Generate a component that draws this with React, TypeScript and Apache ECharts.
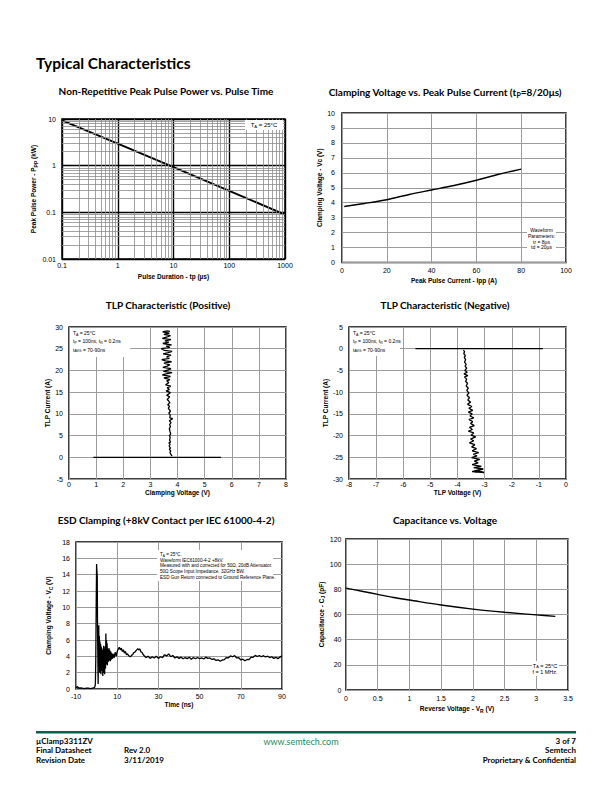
import React, { useEffect, useRef } from "react";
import * as echarts from "echarts";

// ---------- Chart 1: Non-Repetitive Peak Pulse Power vs. Pulse Time ----------
const pulseDuration = [0.1, 1, 10, 100, 1000];
const peakPulsePower = [9.3, 2.95, 0.93, 0.29, 0.089];
const decadesX = [0.1, 1, 10, 100];
const decadesY = [0.01, 0.1, 1];

// ---------- Chart 2: Clamping Voltage vs. Peak Pulse Current ----------
const peakPulseCurrent = [1, 10, 20, 30, 40, 50, 60, 70, 80];
const clampingVoltage = [3.75, 3.95, 4.2, 4.55, 4.85, 5.15, 5.5, 5.9, 6.25];

// ---------- Chart 3: TLP Characteristic (Positive) ----------
const tlpPosBaseV = [0.9, 5.6];
const tlpPosBaseI = [0, 0];
const tlpPosV = [3.8, 3.76, 3.72, 3.75, 3.7, 3.74, 3.69, 3.73, 3.68, 3.74, 3.71, 3.73, 3.7, 3.75, 3.72, 3.7, 3.74, 3.71, 3.76, 3.7, 3.82, 3.72, 3.73, 3.68, 3.74, 3.66, 3.71, 3.64, 3.72, 3.67, 3.62, 3.71, 3.6, 3.68, 3.74, 3.58, 3.7, 3.62, 3.75, 3.56, 3.68, 3.6, 3.72, 3.5, 3.74, 3.44, 3.58, 3.8, 3.48, 3.66, 3.76, 3.46, 3.62, 3.72, 3.5, 3.78, 3.55, 3.42, 3.7, 3.6, 3.76, 3.47, 3.66, 3.8, 3.52, 3.4, 3.72, 3.58, 3.78, 3.46, 3.68, 3.54, 3.76, 3.44, 3.62, 3.74, 3.5, 3.7, 3.45, 3.62, 3.72];
const tlpPosI = [0.3, 0.6, 1.1, 1.4, 1.9, 2.1, 2.6, 3.0, 3.3, 3.5, 4.0, 4.6, 5.0, 5.4, 6.0, 6.6, 7.1, 7.5, 8.0, 8.4, 8.9, 9.1, 9.7, 10.2, 10.6, 11.3, 11.7, 12.1, 12.6, 13.0, 13.3, 13.9, 14.3, 14.6, 14.9, 15.3, 15.6, 16.0, 16.4, 16.7, 17.2, 17.6, 17.9, 18.3, 18.6, 19.0, 19.2, 19.5, 19.8, 20.1, 20.4, 20.7, 21.0, 21.3, 21.7, 22.0, 22.2, 22.5, 22.8, 23.1, 23.5, 23.8, 24.1, 24.4, 24.6, 25.0, 25.3, 25.6, 25.9, 26.2, 26.5, 26.8, 27.1, 27.4, 27.7, 28.0, 28.3, 28.6, 28.9, 29.1, 29.0];

// ---------- Chart 4: TLP Characteristic (Negative) ----------
const tlpNegBaseV = [-5.55, -0.85];
const tlpNegBaseI = [0, 0];
const tlpNegV = [-3.78, -3.74, -3.77, -3.71, -3.75, -3.7, -3.74, -3.68, -3.72, -3.66, -3.73, -3.64, -3.76, -3.62, -3.74, -3.66, -3.7, -3.63, -3.68, -3.6, -3.66, -3.58, -3.65, -3.56, -3.62, -3.52, -3.63, -3.47, -3.58, -3.44, -3.6, -3.46, -3.54, -3.4, -3.58, -3.44, -3.52, -3.38, -3.56, -3.45, -3.6, -3.4, -3.5, -3.33, -3.52, -3.4, -3.56, -3.36, -3.48, -3.3, -3.46, -3.22, -3.42, -3.28, -3.48, -3.18, -3.38, -3.24, -3.46, -3.12, -3.4, -3.05, -3.3, -3.46, -3.02, -3.2, -3.36];
const tlpNegI = [-0.3, -0.7, -1.1, -1.6, -2.0, -2.5, -3.1, -3.6, -4.0, -4.5, -5.0, -5.4, -5.8, -6.2, -6.5, -7.0, -7.5, -8.0, -8.6, -9.1, -9.6, -10.2, -10.7, -11.3, -11.8, -12.3, -12.8, -13.3, -13.7, -14.2, -14.6, -15.0, -15.5, -15.9, -16.3, -16.8, -17.2, -17.7, -18.1, -18.6, -19.0, -19.4, -19.9, -20.3, -20.8, -21.2, -21.7, -22.1, -22.6, -23.0, -23.5, -23.9, -24.3, -24.7, -25.1, -25.5, -25.9, -26.3, -26.7, -27.1, -27.4, -27.7, -28.0, -28.3, -28.5, -28.2, -28.4];

// ---------- Chart 5: ESD Clamping ----------
const esdTime = [-10, -9.5, -9, -8.5, -8, -7, -6, -5, -4, -3, -2, -1.5, -1, -0.8, -0.6, -0.4, -0.2, 0, 0.15, 0.3, 0.45, 0.6, 0.75, 0.9, 1.05, 1.2, 1.35, 1.5, 1.65, 1.8, 1.95, 2.1, 2.25, 2.4, 2.55, 2.7, 2.85, 3.0, 3.15, 3.3, 3.45, 3.6, 3.75, 3.9, 4.05, 4.2, 4.35, 4.5, 4.65, 4.8, 4.95, 5.1, 5.25, 5.4, 5.55, 5.7, 5.9, 6.1, 6.3, 6.5, 6.7, 6.9, 7.1, 7.3, 7.6, 8, 8.5, 9, 9.5, 10, 10.5, 11, 11.5, 12, 12.5, 13, 13.5, 14, 14.5, 15, 15.5, 16, 16.5, 17, 17.5, 18, 18.5, 19, 19.5, 20, 20.5, 21, 21.5, 22, 22.5, 23, 24, 25, 26, 27, 28, 29, 30, 31, 32, 33, 34, 35, 36, 37, 38, 39, 40, 41, 42, 43, 44, 45, 46, 47, 48, 49, 50, 51, 52, 53, 54, 55, 56, 57, 58, 59, 60, 61, 62, 63, 64, 65, 66, 67, 68, 69, 70, 71, 72, 73, 74, 75, 76, 77, 78, 79, 80, 81, 82, 83, 84, 85, 86, 87, 88, 89, 90];
const esdVoltage = [0.1, 0.3, 0.2, 0.1, 0.15, 0.1, 0.05, 0.1, 0.1, 0.05, 0.1, 0.15, 0.2, 0.3, 0.6, 3.5, 10, 15.3, 14.5, 13.8, 8, 4, 0.6, 5, 7.8, 3, 6.5, 2, 5.8, 3.2, 5.5, 1.8, 5.2, 3.5, 5.0, 2.2, 4.8, 1.6, 4.5, 2.8, 5.3, 2.0, 4.9, 1.8, 4.4, 5.2, 2.5, 6.8, 3.0, 6.0, 3.2, 5.6, 2.9, 5.0, 3.3, 4.8, 3.4, 5.0, 3.5, 4.7, 3.4, 4.6, 3.6, 4.4, 3.7, 4.3, 3.8, 4.5, 4.0, 4.6, 4.9, 5.1, 4.8, 5.0, 4.6, 4.8, 4.4, 4.6, 4.2, 4.3, 4.1, 4.0, 3.95, 4.15, 4.2, 4.45, 4.5, 4.65, 4.8, 4.95, 4.8, 4.9, 4.55, 4.5, 4.25, 4.1, 3.85, 4.0, 3.75, 3.95, 3.8, 4.0, 3.75, 3.95, 3.85, 4.2, 4.05, 4.3, 3.95, 4.1, 3.8, 3.95, 3.75, 3.9, 3.7, 3.85, 3.72, 3.88, 3.65, 3.85, 3.7, 3.85, 3.7, 3.82, 3.68, 3.9, 3.75, 3.8, 3.62, 3.7, 3.5, 3.58, 3.4, 3.55, 3.6, 3.85, 3.82, 4.05, 3.95, 4.08, 3.8, 3.85, 3.55, 3.65, 3.45, 3.62, 3.6, 3.9, 3.88, 4.12, 3.98, 4.1, 3.95, 4.08, 3.92, 4.02, 3.85, 3.95, 3.75, 3.88, 3.72, 3.9, 4.05];

// ---------- Chart 6: Capacitance vs. Voltage ----------
const reverseVoltage = [0, 0.25, 0.5, 0.75, 1, 1.5, 2, 2.5, 3, 3.3];
const capacitance = [81, 78.5, 76, 73.5, 71.5, 67.5, 64.3, 61.8, 59.7, 58.5];

const ESD_OFFSET = 10; // x axis of ESD chart drawn from 0..100, labelled -10..90

const F_AX = "'Liberation Sans', Arial, sans-serif";
const F_T = "Lato, 'Open Sans', sans-serif";

const zip = (a: number[], b: number[]) => a.map((v, i) => [v, b[i]]);

const subRichAx = {
  sub: { fontSize: 5, fontFamily: F_AX, fontWeight: "bold", color: "#000", verticalAlign: "bottom", padding: [4, 0, 0, 0] },
};

function axisBase(gridIndex: number, extra: any) {
  return {
    gridIndex,
    axisLine: { show: false },
    axisTick: { show: false },
    splitLine: { show: true, lineStyle: { color: "#9c9c9c", width: 1 } },
    nameLocation: "middle",
    nameTextStyle: { color: "#000", fontFamily: F_AX, fontWeight: "bold", fontSize: 6.5, rich: subRichAx },
    ...extra,
    axisLabel: {
      color: "#000",
      fontFamily: F_AX,
      fontSize: 7,
      interval: 0,
      showMinLabel: true,
      showMaxLabel: true,
      hideOverlap: false,
      ...(extra.axisLabel || {}),
    },
  };
}

const lineSeries = (xi: number, data: number[][], width = 1.3, z = 3, smooth: any = false) => ({
  type: "line",
  xAxisIndex: xi,
  yAxisIndex: xi,
  data,
  symbol: "none",
  showSymbol: false,
  smooth,
  z,
  lineStyle: { color: "#000", width },
  silent: true,
});

function txt(x: number, y: number, text: string, o: any = {}) {
  return {
    type: "text",
    x,
    y,
    z: 100,
    silent: true,
    style: {
      text,
      fill: o.fill || "#000",
      fontFamily: o.fontFamily || F_T,
      fontSize: o.fontSize || 8,
      fontWeight: o.fontWeight || "normal",
      textAlign: o.align || "left",
      textVerticalAlign: "middle",
      rich: o.rich,
    },
  };
}

function box(x: number, y: number, w: number, h: number) {
  return { type: "rect", z: 90, silent: true, shape: { x, y, width: w, height: h }, style: { fill: "#fff" } };
}

const smallRich = (fs: number) => ({
  sub: { fontSize: fs * 0.7, fontFamily: F_AX, fill: "#000", verticalAlign: "bottom", padding: [3, 0, 0, 0] },
});

export default function App() {
  const ref = useRef<HTMLDivElement>(null);
  useEffect(() => {
    if (!ref.current) return;
    const chart = echarts.init(ref.current, undefined, { renderer: "svg" });

    const minorX: number[] = [];
    decadesX.forEach((d) => { for (let k = 2; k <= 9; k++) minorX.push(+(d * k).toPrecision(3)); });
    const minorY: number[] = [];
    decadesY.forEach((d) => { for (let k = 2; k <= 9; k++) minorY.push(+(d * k).toPrecision(3)); });

    const gridStyle = { show: true, borderColor: "#000", borderWidth: 1.5, backgroundColor: "#fff" };
    const grids = [
      { left: 62, top: 119, width: 223, height: 140, ...gridStyle },
      { left: 342, top: 113, width: 224, height: 149.5, ...gridStyle },
      { left: 69, top: 327, width: 217, height: 152, ...gridStyle },
      { left: 349, top: 327, width: 217, height: 152, ...gridStyle },
      { left: 76, top: 542, width: 206, height: 147, ...gridStyle },
      { left: 346, top: 539, width: 222, height: 151, ...gridStyle },
    ];

    const logFmt = (v: number) => String(Number(v.toPrecision(6)));

    const xAxes = [
      axisBase(0, {
        type: "log", logBase: 10, min: 0.1, max: 1000,
        name: "Pulse Duration - tp (µs)", nameGap: 14,
        splitLine: { show: true, lineStyle: { color: "#000", width: 1.4 } },
        axisLabel: { margin: 3, formatter: logFmt },
      }),
      axisBase(1, { type: "value", min: 0, max: 100, interval: 20, name: "Peak Pulse Current - Ipp (A)", nameGap: 14, axisLabel: { margin: 4 } }),
      axisBase(2, { type: "value", min: 0, max: 8, interval: 1, name: "Clamping Voltage (V)", nameGap: 8, axisLabel: { margin: 2 } }),
      axisBase(3, { type: "value", min: -8, max: 0, interval: 1, name: "TLP Voltage (V)", nameGap: 8, axisLabel: { margin: 2 } }),
      axisBase(4, {
        type: "value", min: 0, max: 100, interval: 20, name: "Time (ns)", nameGap: 12,
        axisLabel: { margin: 4, formatter: (v: number) => String(v - ESD_OFFSET) },
      }),
      axisBase(5, { type: "value", min: 0, max: 3.5, interval: 0.5, name: "Reverse Voltage - V{sub|R} (V)", nameGap: 14, axisLabel: { margin: 5 } }),
    ];

    const yAxes = [
      axisBase(0, {
        type: "log", logBase: 10, min: 0.01, max: 10,
        name: "Peak Pulse Power - P{sub|PP} (kW)", nameGap: 17,
        splitLine: { show: true, lineStyle: { color: "#000", width: 1.4 } },
        axisLabel: { margin: 6, formatter: logFmt },
      }),
      axisBase(1, { type: "value", min: 0, max: 10, interval: 1, name: "Clamping Voltage - Vc (V)", nameGap: 13, axisLabel: { margin: 7 } }),
      axisBase(2, { type: "value", min: -5, max: 30, interval: 5, name: "TLP Current (A)", nameGap: 18, axisLabel: { margin: 6 } }),
      axisBase(3, { type: "value", min: -30, max: 5, interval: 5, name: "TLP Current (A)", nameGap: 18, axisLabel: { margin: 6 } }),
      axisBase(4, { type: "value", min: 0, max: 18, interval: 2, name: "Clamping Voltage - V{sub|C} (V)", nameGap: 23, axisLabel: { margin: 6 } }),
      axisBase(5, { type: "value", min: 0, max: 120, interval: 20, name: "Capacitance - C{sub|J} (pF)", nameGap: 17, axisLabel: { margin: 4.5 } }),
    ];

    const series: any[] = [
      {
        type: "line", xAxisIndex: 0, yAxisIndex: 0, data: [[0.1, 0.01]], symbol: "none", z: 1, silent: true,
        lineStyle: { width: 0 },
        markLine: {
          silent: true, symbol: "none", label: { show: false }, animation: false,
          lineStyle: { color: "#8c8c8c", width: 0.8, type: "solid" },
          data: [...minorX.map((v) => ({ xAxis: v })), ...minorY.map((v) => ({ yAxis: v }))],
        },
      },
      lineSeries(0, zip(pulseDuration, peakPulsePower), 1.9),
      lineSeries(1, zip(peakPulseCurrent, clampingVoltage), 1.4, 3, 0.3),
      lineSeries(2, zip(tlpPosBaseV, tlpPosBaseI), 1.3),
      lineSeries(2, zip(tlpPosV, tlpPosI), 1.3),
      lineSeries(3, zip(tlpNegBaseV, tlpNegBaseI), 1.3),
      lineSeries(3, zip(tlpNegV, tlpNegI), 1.3),
      lineSeries(4, zip(esdTime.map((t) => t + ESD_OFFSET), esdVoltage), 1.3),
      lineSeries(5, zip(reverseVoltage, capacitance), 1.4, 3, 0.3),
    ];

    const titleStyle = { fontFamily: F_T, fontSize: 10, fontWeight: "bold", align: "center" };
    const tRich = {
      sub: { fontSize: 7, fontFamily: F_T, fontWeight: "bold", fill: "#000", verticalAlign: "bottom", padding: [5, 0, 0, 0] },
    };
    const leg = 5;

    const graphic: any[] = [
      txt(36, 63, "Typical Characteristics", { fontSize: 15.5, fontWeight: "bold" }),
      txt(166, 91, "Non-Repetitive Peak Pulse Power vs. Pulse Time", titleStyle),
      txt(445, 92, "Clamping Voltage vs. Peak Pulse Current (t{sub|P}=8/20μs)", { ...titleStyle, rich: tRich }),
      txt(168, 305, "TLP Characteristic (Positive)", titleStyle),
      txt(445, 305, "TLP Characteristic (Negative)", titleStyle),
      txt(166, 520, "ESD Clamping (+8kV Contact per IEC 61000-4-2)", titleStyle),
      txt(445, 520, "Capacitance vs. Voltage", titleStyle),

      // chart 1 legend
      box(245, 120, 38, 10),
      txt(264, 124.5, "T{sub|A} = 25°C", { fontFamily: F_AX, fontSize: 6, align: "center", rich: smallRich(6) }),

      // chart 2 legend
      box(527, 227, 29, 25),
      txt(541.5, 229.5, "Waveform", { fontFamily: F_AX, fontSize: leg, align: "center" }),
      txt(541.5, 235.5, "Parameters:", { fontFamily: F_AX, fontSize: leg, align: "center" }),
      txt(541.5, 241.5, "tr = 8µs", { fontFamily: F_AX, fontSize: leg, align: "center" }),
      txt(541.5, 247, "td = 20µs", { fontFamily: F_AX, fontSize: leg, align: "center" }),

      // chart 3 legend
      box(70, 328, 60, 29),
      txt(73, 333, "T{sub|A} = 25°C", { fontFamily: F_AX, fontSize: leg, rich: smallRich(leg) }),
      txt(73, 341, "t{sub|P} = 100ns, t{sub|R} = 0.2ns", { fontFamily: F_AX, fontSize: leg, rich: smallRich(leg) }),
      txt(73, 349.5, "t{sub|AVG} = 70-90ns", { fontFamily: F_AX, fontSize: leg, rich: smallRich(leg) }),

      // chart 4 legend
      box(350, 328, 50, 28),
      txt(353, 333, "T{sub|A} = 25°C", { fontFamily: F_AX, fontSize: leg, rich: smallRich(leg) }),
      txt(353, 341, "t{sub|P} = 100ns, t{sub|R} = 0.2ns", { fontFamily: F_AX, fontSize: leg, rich: smallRich(leg) }),
      txt(353, 349.5, "t{sub|AVG} = 70-90ns", { fontFamily: F_AX, fontSize: leg, rich: smallRich(leg) }),

      // chart 5 legend
      box(157, 550, 116, 31),
      txt(160, 554, "T{sub|A} = 25°C.", { fontFamily: F_AX, fontSize: 4.6, rich: smallRich(4.6) }),
      txt(160, 560, "Waveform IEC61000-4-2 +8kV.", { fontFamily: F_AX, fontSize: 4.6 }),
      txt(160, 565.8, "Measured with and corrected for 50Ω, 20dB Attenuator.", { fontFamily: F_AX, fontSize: 4.6 }),
      txt(160, 571.6, "50Ω Scope Input Impedance, 32GHz BW.", { fontFamily: F_AX, fontSize: 4.6 }),
      txt(160, 577.4, "ESD Gun Return connected to Ground Reference Plane.", { fontFamily: F_AX, fontSize: 4.6 }),

      // chart 6 legend
      box(532, 661, 27, 15),
      txt(545, 665.5, "T{sub|A} = 25°C", { fontFamily: F_AX, fontSize: 5.5, align: "center", rich: smallRich(5.5) }),
      txt(545, 672, "f = 1 MHz.", { fontFamily: F_AX, fontSize: 5.5, align: "center" }),

      // footer
      { type: "rect", z: 90, silent: true, shape: { x: 36, y: 731, width: 540, height: 2.6 }, style: { fill: "#00664a" } },
      txt(36, 741, "µClamp3311ZV", { fontSize: 8, fontWeight: "bold" }),
      txt(36, 750, "Final Datasheet", { fontSize: 8, fontWeight: "bold" }),
      txt(36, 760, "Revision Date", { fontSize: 8, fontWeight: "bold" }),
      txt(124, 750, "Rev 2.0", { fontSize: 8, fontWeight: "bold" }),
      txt(124, 760, "3/11/2019", { fontSize: 8, fontWeight: "bold" }),
      txt(301, 741.5, "www.semtech.com", { fontSize: 9, fill: "#1e8a5a", align: "center" }),
      txt(576, 741, "3 of 7", { fontSize: 8, fontWeight: "bold", align: "right" }),
      txt(576, 750, "Semtech", { fontSize: 8, fontWeight: "bold", align: "right" }),
      txt(576, 760, "Proprietary & Confidential", { fontSize: 8, fontWeight: "bold", align: "right" }),
    ];

    chart.setOption({
      animation: false,
      backgroundColor: "#fff",
      grid: grids,
      xAxis: xAxes,
      yAxis: yAxes,
      series,
      graphic,
    });
    return () => chart.dispose();
  }, []);
  return <div ref={ref} style={{ position: "absolute", left: 0, top: 0, width: 612, height: 792 }} />;
}
